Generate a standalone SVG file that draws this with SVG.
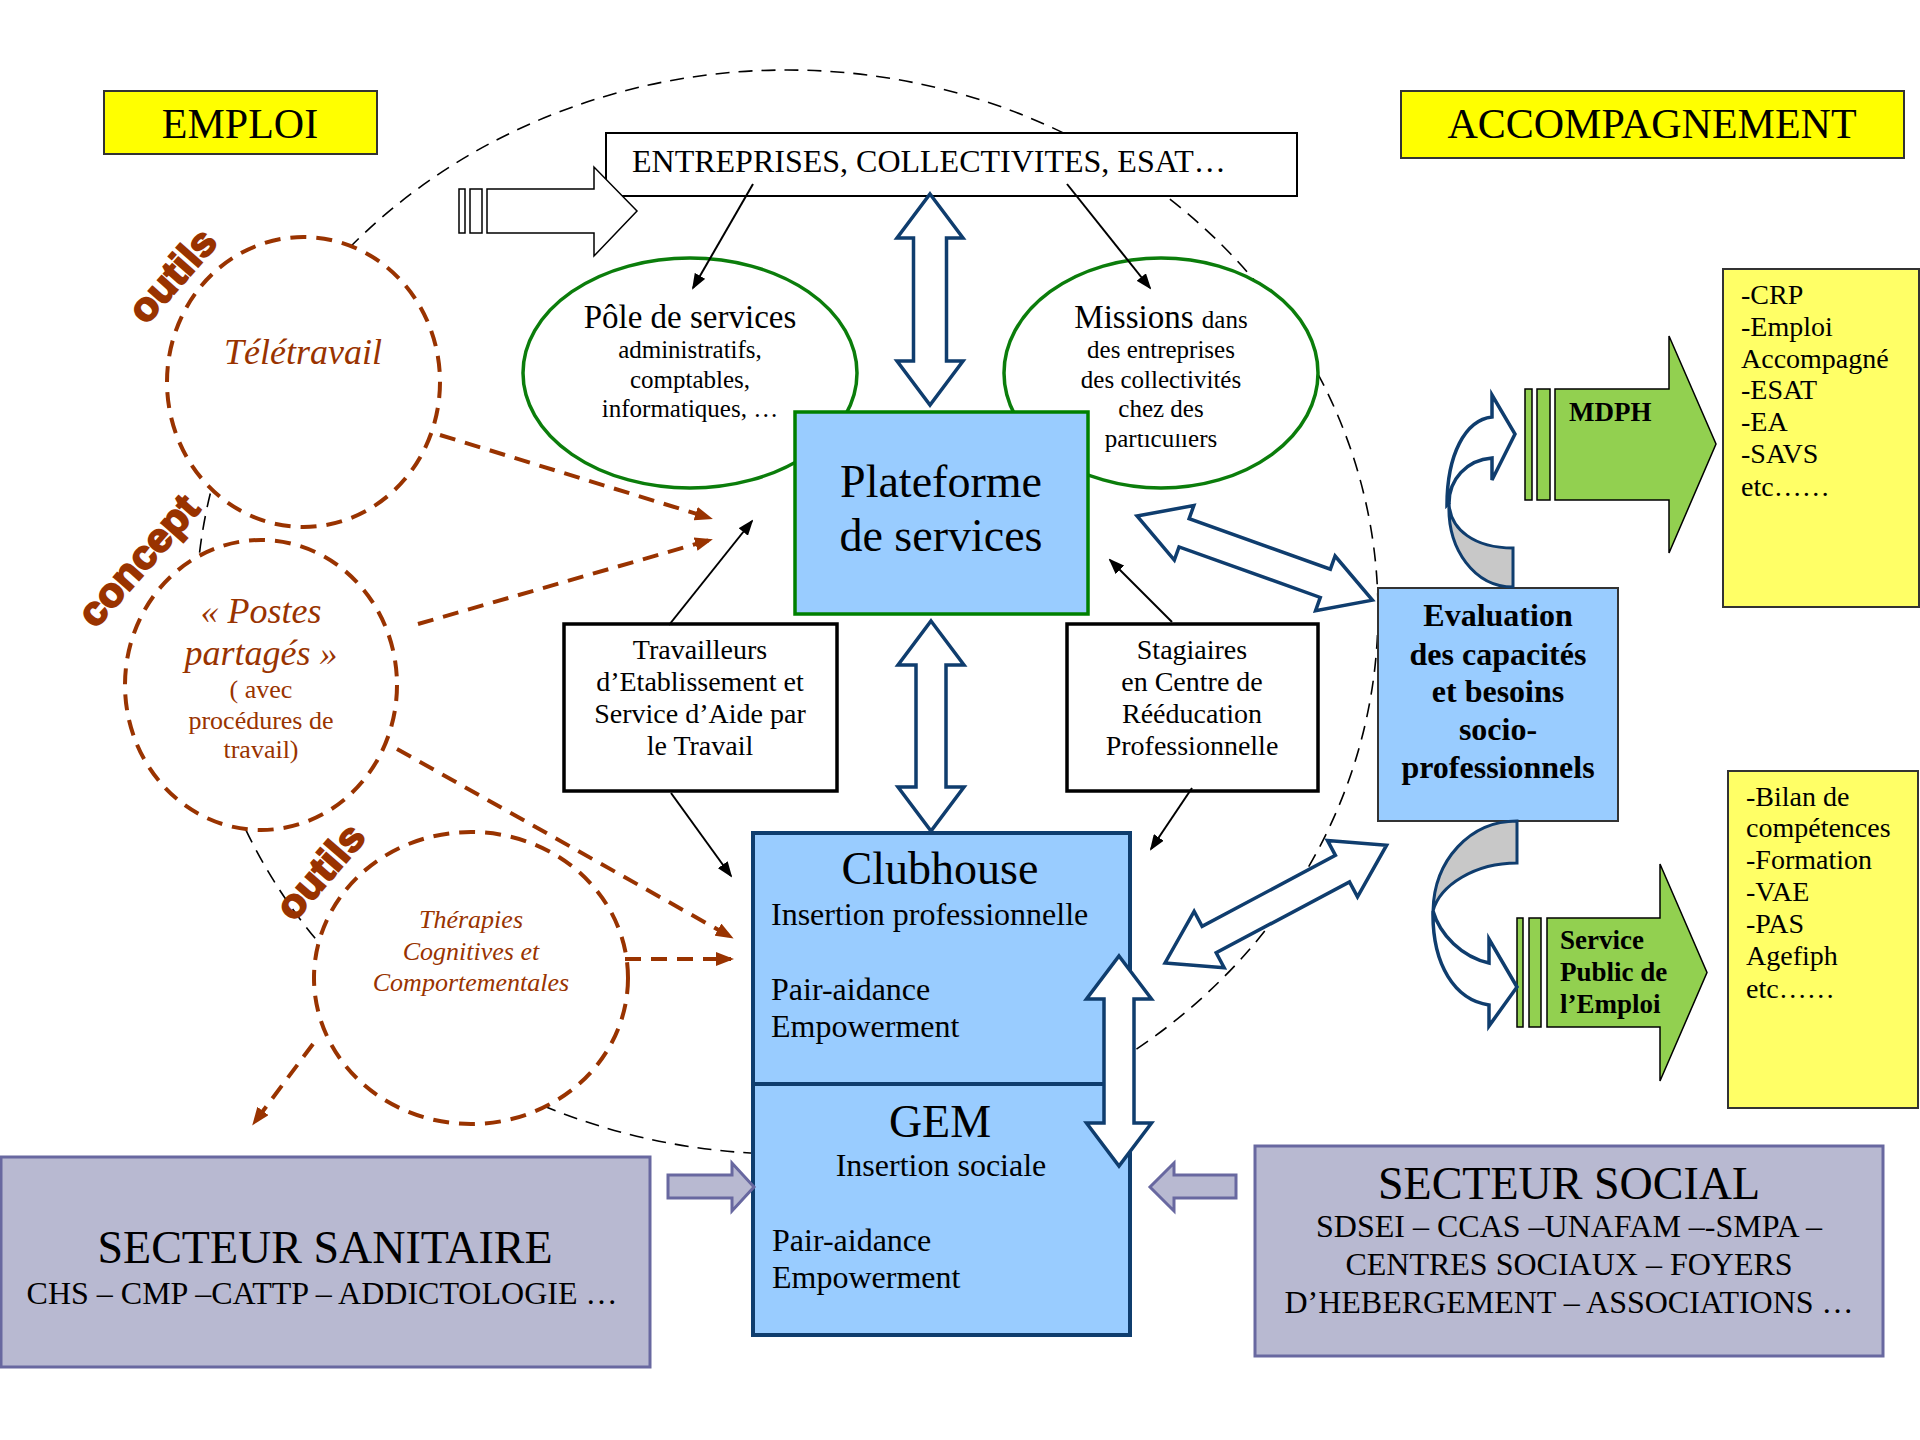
<svg xmlns="http://www.w3.org/2000/svg" width="1920" height="1440" viewBox="0 0 1920 1440">
<style>
.s{font-family:"Liberation Serif","Times New Roman",serif;fill:#000}
.b{font-weight:bold}
.i{font-style:italic}
.br{fill:#993300}
.mid{text-anchor:middle}
.lbl{font-family:"Liberation Sans",Arial,sans-serif;font-weight:bold;fill:#993300;stroke:#993300;stroke-width:2;font-size:40px;text-anchor:middle}
.bc{fill:#fff;stroke:#993300;stroke-width:4;stroke-dasharray:16 10}
.ge{fill:#fff;stroke:#0B7D0B;stroke-width:3.5}
.blue{fill:#99CCFF}
.da{fill:#fff;stroke:#0F3D6E;stroke-width:3.5;stroke-linejoin:miter}
.ln{stroke:#000;stroke-width:2;fill:none;marker-end:url(#ah)}
.bl{stroke:#993300;stroke-width:4;stroke-dasharray:16 10;fill:none;marker-end:url(#bh)}
.lav{fill:#B8B9D1;stroke:#6868A0;stroke-width:3}
.grn{fill:#92D050;stroke:#000;stroke-width:1.5}
.yel{fill:#FFFF66;stroke:#333;stroke-width:2}
</style>
<defs>
<marker id="ah" markerUnits="userSpaceOnUse" markerWidth="16" markerHeight="12" refX="14" refY="6" orient="auto"><path d="M0,0 L16,6 L0,12 Z" fill="#000"/></marker>
<marker id="bh" markerUnits="userSpaceOnUse" markerWidth="18" markerHeight="14" refX="15" refY="7" orient="auto"><path d="M0,0 L18,7 L0,14 Z" fill="#993300"/></marker>
<clipPath id="clipPart"><rect x="1000" y="434" width="330" height="40"/></clipPath>
</defs>
<rect width="1920" height="1440" fill="#fff"/>

<g id="boundary">
<ellipse cx="787" cy="612" rx="591" ry="542" fill="none" stroke="#000" stroke-width="1.6" stroke-dasharray="14 9"/>
</g>

<g id="emploi">
<rect x="104" y="91" width="273" height="63" fill="#FFFF00" stroke="#333" stroke-width="2"/>
<text class="s mid" x="240" y="138" font-size="42">EMPLOI</text>
</g>
<g id="accompagnement">
<rect x="1401" y="91" width="503" height="67" fill="#FFFF00" stroke="#333" stroke-width="2"/>
<text class="s mid" x="1652" y="138" font-size="42">ACCOMPAGNEMENT</text>
</g>

<g id="teletravail">
<ellipse class="bc" cx="303.5" cy="382" rx="136.5" ry="145"/>
<text class="s i br mid" x="303" y="364" font-size="36">Télétravail</text>
</g>
<g id="postes">
<ellipse class="bc" cx="261" cy="685" rx="136" ry="145"/>
<text class="s i br mid" font-size="36"><tspan x="261" y="623">« Postes</tspan><tspan x="261" y="665">partagés »</tspan></text>
<text class="s br mid" font-size="26"><tspan x="261" y="698">( avec</tspan><tspan x="261" y="729">procédures de</tspan><tspan x="261" y="758">travail)</tspan></text>
</g>
<g id="therapies">
<ellipse class="bc" cx="471" cy="978" rx="157" ry="146"/>
<text class="s i br mid" font-size="26"><tspan x="471" y="928">Thérapies</tspan><tspan x="471" y="960">Cognitives et</tspan><tspan x="471" y="991">Comportementales</tspan></text>
</g>
<g id="labels">
<text class="lbl" transform="translate(182.5,284.5) rotate(-48.5)" textLength="110" lengthAdjust="spacingAndGlyphs">outils</text>
<text class="lbl" transform="translate(148.5,569.5) rotate(-48.6)" textLength="160" lengthAdjust="spacingAndGlyphs">concept</text>
<text class="lbl" transform="translate(330.5,880.5) rotate(-49)" textLength="112" lengthAdjust="spacingAndGlyphs">outils</text>
</g>

<g id="entreprises">
<rect x="606" y="133" width="691" height="63" fill="#fff" stroke="#000" stroke-width="2"/>
<text class="s" x="632" y="172" font-size="32">ENTREPRISES, COLLECTIVITES, ESAT…</text>
</g>

<g id="pole">
<ellipse class="ge" cx="690" cy="373" rx="167" ry="115"/>
<text class="s mid" x="690" y="328" font-size="33">Pôle de services</text>
<text class="s mid" font-size="25"><tspan x="690" y="358">administratifs,</tspan><tspan x="690" y="388">comptables,</tspan><tspan x="690" y="417">informatiques, …</tspan></text>
</g>
<g id="missions">
<ellipse class="ge" cx="1161" cy="373" rx="157" ry="115"/>
<text class="s mid" x="1161" y="328" font-size="33">Missions <tspan font-size="25">dans</tspan></text>
<text class="s mid" font-size="25"><tspan x="1161" y="358">des entreprises</tspan><tspan x="1161" y="388">des collectivités</tspan><tspan x="1161" y="417">chez des</tspan></text>
<text class="s mid" font-size="25" x="1161" y="447" clip-path="url(#clipPart)">particuliers</text>
</g>

<g id="plateforme">
<rect class="blue" x="795" y="412" width="293" height="202" stroke="#008000" stroke-width="3.5"/>
<text class="s mid" font-size="46"><tspan x="941" y="497">Plateforme</tspan><tspan x="941" y="551">de services</tspan></text>
</g>

<g id="travailleurs">
<rect x="564" y="624" width="273" height="167" fill="#fff" stroke="#000" stroke-width="3.5"/>
<text class="s mid" font-size="28"><tspan x="700" y="659">Travailleurs</tspan><tspan x="700" y="691">d’Etablissement et</tspan><tspan x="700" y="723">Service d’Aide par</tspan><tspan x="700" y="755">le Travail</tspan></text>
</g>
<g id="stagiaires">
<rect x="1067" y="624" width="251" height="167" fill="#fff" stroke="#000" stroke-width="3.5"/>
<text class="s mid" font-size="28"><tspan x="1192" y="659">Stagiaires</tspan><tspan x="1192" y="691">en Centre de</tspan><tspan x="1192" y="723">Rééducation</tspan><tspan x="1192" y="755">Professionnelle</tspan></text>
</g>

<g id="clubhouse">
<rect class="blue" x="753" y="833" width="377" height="251" stroke="#0F3D6E" stroke-width="4"/>
<text class="s mid" x="940" y="884" font-size="46">Clubhouse</text>
<text class="s" x="771" y="925" font-size="32">Insertion professionnelle</text>
<text class="s" font-size="32"><tspan x="771" y="1000">Pair-aidance</tspan><tspan x="771" y="1037">Empowerment</tspan></text>
</g>
<g id="gem">
<rect class="blue" x="753" y="1084" width="377" height="251" stroke="#0F3D6E" stroke-width="4"/>
<text class="s mid" x="940" y="1137" font-size="46">GEM</text>
<text class="s mid" x="941" y="1176" font-size="32">Insertion sociale</text>
<text class="s" font-size="32"><tspan x="772" y="1251">Pair-aidance</tspan><tspan x="772" y="1288">Empowerment</tspan></text>
</g>

<g id="evaluation">
<rect class="blue" x="1378" y="588" width="240" height="233" stroke="#333" stroke-width="2"/>
<text class="s b mid" font-size="32"><tspan x="1498" y="626">Evaluation</tspan><tspan x="1498" y="665">des capacités</tspan><tspan x="1498" y="702">et besoins</tspan><tspan x="1498" y="740">socio-</tspan><tspan x="1498" y="778">professionnels</tspan></text>
</g>

<g id="mdph">
<rect class="grn" x="1525" y="389" width="7" height="111"/>
<rect class="grn" x="1537" y="389" width="13" height="111"/>
<path class="grn" d="M1555,389 L1669,389 L1669,336 L1716,444 L1669,553 L1669,500 L1555,500 Z"/>
<text class="s b" x="1569" y="421" font-size="27">MDPH</text>
</g>
<g id="spe">
<rect class="grn" x="1517" y="918" width="6" height="109"/>
<rect class="grn" x="1529" y="918" width="12" height="109"/>
<path class="grn" d="M1547,918 L1660,918 L1660,864 L1707,972.5 L1660,1081 L1660,1027 L1547,1027 Z"/>
<text class="s b" font-size="27"><tspan x="1560" y="949">Service</tspan><tspan x="1560" y="981">Public de</tspan><tspan x="1560" y="1013">l’Emploi</tspan></text>
</g>

<g id="liste1">
<rect class="yel" x="1723" y="269" width="196" height="338"/>
<text class="s" font-size="28"><tspan x="1741" y="304">-CRP</tspan><tspan x="1741" y="336">-Emploi</tspan><tspan x="1741" y="368">Accompagné</tspan><tspan x="1741" y="399">-ESAT</tspan><tspan x="1741" y="431">-EA</tspan><tspan x="1741" y="463">-SAVS</tspan><tspan x="1741" y="496">etc……</tspan></text>
</g>
<g id="liste2">
<rect class="yel" x="1728" y="771" width="190" height="337"/>
<text class="s" font-size="28"><tspan x="1746" y="806">-Bilan de</tspan><tspan x="1746" y="837">compétences</tspan><tspan x="1746" y="869">-Formation</tspan><tspan x="1746" y="901">-VAE</tspan><tspan x="1746" y="933">-PAS</tspan><tspan x="1746" y="965">Agefiph</tspan><tspan x="1746" y="998">etc……</tspan></text>
</g>

<g id="sanitaire">
<rect class="lav" x="1" y="1157" width="649" height="210"/>
<text class="s mid" x="325" y="1263" font-size="46">SECTEUR SANITAIRE</text>
<text class="s mid" x="322" y="1304" font-size="32">CHS – CMP –CATTP – ADDICTOLOGIE …</text>
</g>
<g id="social">
<rect class="lav" x="1255" y="1146" width="628" height="210"/>
<text class="s mid" x="1569" y="1199" font-size="46">SECTEUR SOCIAL</text>
<text class="s mid" font-size="32"><tspan x="1569" y="1237">SDSEI – CCAS –UNAFAM –-SMPA –</tspan><tspan x="1569" y="1275">CENTRES SOCIAUX – FOYERS</tspan><tspan x="1569" y="1313">D’HEBERGEMENT – ASSOCIATIONS …</tspan></text>
</g>

<g id="connectors">
<rect x="459" y="189" width="6" height="44" fill="#fff" stroke="#000" stroke-width="1.5"/>
<rect x="470" y="189" width="12" height="44" fill="#fff" stroke="#000" stroke-width="1.5"/>
<path d="M487,189 L594,189 L594,167 L637,211 L594,256 L594,233 L487,233 Z" fill="#fff" stroke="#000" stroke-width="1.5"/>

<line class="ln" x1="753" y1="184" x2="693" y2="288"/>
<line class="ln" x1="1067" y1="184" x2="1150" y2="288"/>
<line class="ln" x1="669" y1="625" x2="752" y2="521"/>
<line class="ln" x1="671" y1="793" x2="731" y2="876"/>
<line class="ln" x1="1172" y1="622" x2="1110" y2="560"/>
<line class="ln" x1="1192" y1="788" x2="1151" y2="849"/>

<line class="bl" x1="440" y1="435" x2="710" y2="518"/>
<line class="bl" x1="418" y1="624" x2="710" y2="540"/>
<line class="bl" x1="397" y1="749" x2="731" y2="937"/>
<line class="bl" x1="625" y1="959" x2="731" y2="959"/>
<line class="bl" x1="313" y1="1044" x2="254" y2="1123"/>

<path class="da" transform="translate(930,194) rotate(90)" d="M0,0 L44,-33 L44,-16.5 L167,-16.5 L167,-33 L211,0 L167,33 L167,16.5 L44,16.5 L44,33 Z"/>
<path class="da" transform="translate(931,621) rotate(90)" d="M0,0 L44,-33 L44,-15 L166,-15 L166,-33 L210,0 L166,33 L166,15 L44,15 L44,33 Z"/>
<path class="da" transform="translate(1119,956) rotate(90)" d="M0,0 L43,-32.5 L43,-15 L167,-15 L167,-32.5 L210,0 L167,32.5 L167,15 L43,15 L43,32.5 Z"/>
<path class="da" transform="translate(1137,516) rotate(19.67)" d="M0,0 L50,-29 L50,-15 L200,-15 L200,-29 L250,0 L200,29 L200,15 L50,15 L50,29 Z"/>
<path class="da" transform="translate(1165,963) rotate(-28)" d="M0,0 L50,-32 L50,-15 L201,-15 L201,-32 L251,0 L201,32 L201,15 L50,15 L50,32 Z"/>

<path d="M1513,548 C1475,548 1450,530 1449,503 C1447,550 1475,587 1513,587 Z" fill="#C8C8C8" stroke="#0F3D6E" stroke-width="3"/>
<path class="da" d="M1449,503 C1449,480 1466,460 1492,458 L1492,480 L1515,434 L1492,395 L1492,417 C1465,420 1447,455 1447,505 Z"/>

<path d="M1517,821 C1470,821 1434,860 1433,911 C1440,885 1475,863 1517,863 Z" fill="#C8C8C8" stroke="#0F3D6E" stroke-width="3"/>
<path class="da" d="M1433,911 C1440,935 1462,957 1489,963 L1489,939 L1517,987 L1489,1026 L1489,1005 C1455,1000 1432,965 1433,911 Z"/>

<path class="lav" d="M668,1175 L732,1175 L732,1163 L754,1187 L732,1211 L732,1198 L668,1198 Z"/>
<path class="lav" d="M1236,1175 L1174,1175 L1174,1163 L1150,1187 L1174,1211 L1174,1198 L1236,1198 Z"/>
</g>
</svg>
